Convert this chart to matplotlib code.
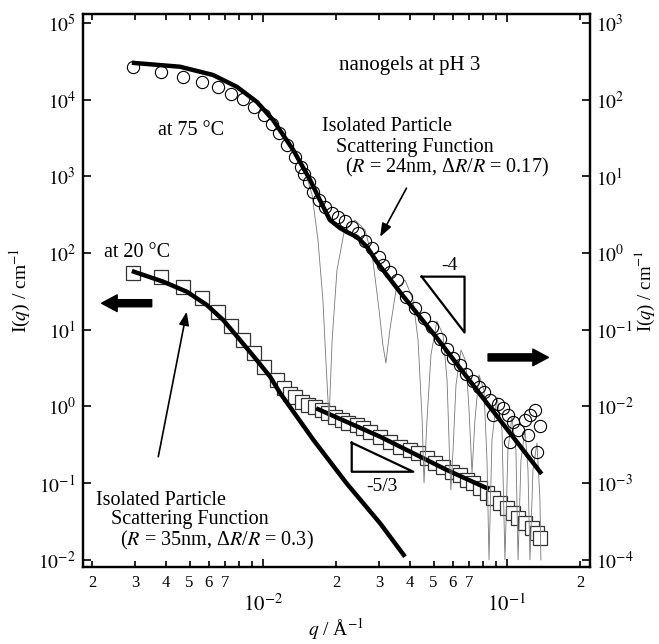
import numpy as np
import matplotlib
matplotlib.use("Agg")
import matplotlib.pyplot as plt
from matplotlib.ticker import LogLocator, NullLocator, FuncFormatter

plt.rcParams['font.family'] = ['Liberation Serif', 'DejaVu Serif']
plt.rcParams['mathtext.fontset'] = 'stix'

# 75 C data (right axis), circles
q_75 = [2.93e-3, 3.82e-3, 4.70e-3, 5.62e-3, 6.54e-3, 7.40e-3, 8.28e-3, 9.19e-3, 1.01e-2, 1.09e-2,
        1.16e-2, 1.25e-2, 1.35e-2, 1.43e-2, 1.47e-2, 1.54e-2, 1.61e-2, 1.69e-2, 1.79e-2, 1.92e-2,
        2.03e-2, 2.17e-2, 2.31e-2, 2.45e-2, 2.62e-2, 2.79e-2, 2.99e-2, 3.11e-2, 3.31e-2, 3.53e-2,
        3.85e-2, 4.20e-2, 4.57e-2, 4.95e-2, 5.31e-2, 5.66e-2, 5.99e-2, 6.41e-2, 6.79e-2, 7.23e-2,
        7.69e-2, 8.05e-2, 8.51e-2, 8.79e-2, 9.21e-2, 9.66e-2, 0.1012, 0.1028, 0.1061, 0.1112,
        0.1185, 0.1223, 0.1242, 0.1302, 0.1331, 0.1365]
I_75 = [267, 230, 198, 170, 147, 119, 101, 80, 63, 48,
        37, 25.6, 17.9, 13.3, 10.7, 8.45, 6.27, 4.92, 3.99, 3.33,
        2.96, 2.62, 2.19, 1.83, 1.44, 1.16, 0.897, 0.70, 0.571, 0.446,
        0.268, 0.192, 0.143, 0.109, 0.0759, 0.0562, 0.0429, 0.0348, 0.0265, 0.0215,
        0.0179, 0.0155, 0.0122, 0.00775, 0.0108, 0.00955, 0.00775, 0.00344, 0.00628, 0.00494,
        0.00667, 0.00425, 0.00775, 0.0090, 0.00255, 0.00557]

# 75 C polydisperse fit (thick)
fit75_q = [2.90e-3, 4.57e-3, 6.24e-3, 7.82e-3, 9.45e-3, 1.10e-2, 1.33e-2, 1.56e-2, 1.71e-2, 1.88e-2,
           2.07e-2, 2.21e-2, 2.43e-2, 2.67e-2, 2.93e-2, 3.64e-2, 5.16e-2, 8.51e-2, 0.1387]
fit75_I = [303, 269, 210, 147, 93.3, 54.3, 22.1, 8.98, 4.92, 2.70,
           2.12, 1.88, 1.62, 1.20, 0.766, 0.311, 0.0782, 9.86e-3, 1.32e-3]

# 75 C monodisperse curve (thin)
thin_q = [2.90e-3, 4.57e-3, 6.24e-3, 7.82e-3, 9.45e-3, 1.10e-2, 1.33e-2, 1.49e-2, 1.59e-2, 1.68e-2,
          1.76e-2, 1.81e-2, 1.865e-2, 1.92e-2, 2.01e-2, 2.15e-2, 2.38e-2, 2.62e-2, 2.82e-2, 2.99e-2,
          3.10e-2, 3.19e-2, 3.31e-2, 3.51e-2, 3.82e-2, 4.12e-2, 4.32e-2, 4.49e-2, 4.57e-2, 4.70e-2,
          4.88e-2, 5.16e-2, 5.47e-2, 5.68e-2, 5.84e-2, 5.89e-2, 6.01e-2, 6.18e-2, 6.48e-2, 6.79e-2,
          6.99e-2, 7.19e-2, 7.39e-2, 7.68e-2, 8.05e-2, 8.28e-2, 8.44e-2, 8.68e-2, 9.10e-2, 9.54e-2,
          9.81e-2, 0.1009, 0.1048, 0.1088, 0.1110, 0.1141, 0.1185, 0.1219, 0.1242, 0.1278,
          0.1327, 0.1365, 0.1377]
thin_I = [303, 269, 210, 146, 93.3, 54.3, 22.1, 11.4, 5.72, 1.48,
          0.245, 0.0404, 6.67e-3, 0.0736, 0.602, 1.88, 2.70, 2.00, 0.813, 0.182,
          0.0634, 0.0370, 0.0997, 0.331, 0.447, 0.245, 0.0736, 6.67e-3, 1.01e-3, 6.67e-3,
          0.0470, 0.130, 0.0858, 0.0222, 1.49e-3, 8.17e-4, 2.71e-3, 0.0191, 0.0546, 0.0381,
          9.02e-3, 1.36e-3, 6.67e-3, 0.0258, 0.0164, 2.00e-3, 1.0e-4, 3.66e-3, 0.0133, 4.94e-3,
          1.0e-4, 2.71e-3, 7.30e-3, 2.71e-3, 1.0e-4, 2.00e-3, 4.94e-3, 1.49e-3, 1.0e-4, 1.49e-3,
          3.34e-3, 6.04e-4, 1.0e-4]

# 20 C data (left axis), squares
q_20 = [2.92e-3, 3.81e-3, 4.71e-3, 5.61e-3, 6.52e-3, 7.39e-3, 8.30e-3, 9.19e-3, 1.012e-2, 1.138e-2,
        1.22e-2, 1.29e-2, 1.35e-2, 1.44e-2, 1.53e-2, 1.63e-2, 1.74e-2, 1.85e-2, 1.97e-2, 2.10e-2,
        2.24e-2, 2.42e-2, 2.57e-2, 2.75e-2, 3.02e-2, 3.31e-2, 3.64e-2, 4.00e-2, 4.33e-2, 4.69e-2,
        5.07e-2, 5.48e-2, 5.93e-2, 6.42e-2, 6.84e-2, 7.28e-2, 7.75e-2, 8.26e-2, 8.79e-2, 9.36e-2,
        9.97e-2, 0.1061, 0.1112, 0.1185, 0.1262, 0.1323, 0.1365]
I_20 = [54.5, 48.3, 36.5, 26.2, 17.2, 11.3, 7.36, 4.94, 3.30, 2.22,
        1.74, 1.46, 1.33, 1.155, 1.046, 0.994, 0.900, 0.815, 0.736, 0.667,
        0.604, 0.574, 0.525, 0.469, 0.404, 0.348, 0.299, 0.271, 0.245, 0.211,
        0.182, 0.164, 0.141, 0.128, 0.110, 0.0997, 0.0858, 0.0738, 0.0636, 0.0547,
        0.0471, 0.0405, 0.0348, 0.0300, 0.0258, 0.0222, 0.0191]

# 20 C fits
fit20_q = [2.90e-3, 3.90e-3, 4.87e-3, 5.88e-3, 6.87e-3, 8.05e-3, 9.42e-3, 1.069e-2, 1.175e-2, 1.61e-2,
           2.20e-2, 3.02e-2, 3.82e-2]
fit20_I = [58.4, 42.4, 31.4, 21.1, 13.4, 7.36, 4.04, 2.45, 1.50, 0.366, 0.0997, 0.030, 0.0110]
blob_q = [1.65e-2, 3.02e-2, 5.66e-2, 8.46e-2]
blob_I = [0.947, 0.404, 0.149, 0.0833]

# slope triangles (left axis units)
tri4_q = [4.47e-2, 6.70e-2, 6.70e-2, 4.47e-2]
tri4_I = [49.3, 49.3, 9.22, 49.3]
tri53_q = [2.31e-2, 2.31e-2, 4.13e-2, 2.31e-2]
tri53_I = [0.337, 0.141, 0.141, 0.337]

fig = plt.figure(figsize=(6.59, 6.44), dpi=100)
ax = fig.add_axes([83/659, 77/644, 507/659, 553/644])
ax2 = ax.twinx()

ax.set_xscale('log')
ax.set_yscale('log')
ax2.set_yscale('log')
ax.set_xlim(1.829e-3, 0.2189)
ax.set_ylim(8.08e-3, 1.31e5)
ax2.set_ylim(8.08e-5, 1.31e3)

# 75 C on the right axis
ax2.plot(thin_q, thin_I, color='#777777', lw=0.6, zorder=1)
ax2.plot(q_75, I_75, 'o', ms=8.8, mfc='none', mec='black', mew=0.8, zorder=2)
ax2.plot(fit75_q, fit75_I, color='black', lw=3.2, solid_capstyle='butt', zorder=3)

# 20 C on the left axis
ax.plot(q_20, I_20, 's', ms=10, mfc='white', mec='#333333', mew=0.9, zorder=2)
ax.plot(fit20_q, fit20_I, color='black', lw=3.2, solid_capstyle='butt', zorder=3)
ax.plot(blob_q, blob_I, color='black', lw=3.2, solid_capstyle='butt', zorder=3)
ax.plot(tri4_q, tri4_I, color='black', lw=1.6, zorder=3)
ax.plot(tri53_q, tri53_I, color='black', lw=1.6, zorder=3)

# ticks
def xmajor(x, pos):
    return r'$10^{%d}$' % int(round(np.log10(x)))

def xminor(x, pos):
    m = x / 10 ** np.floor(np.log10(x) + 1e-9)
    k = int(round(m))
    return str(k) if 2 <= k <= 7 else ''

def ymajor(y, pos):
    return r'$10^{%d}$' % int(round(np.log10(y)))

ax.xaxis.set_major_locator(LogLocator(base=10, numticks=20))
ax.xaxis.set_minor_locator(LogLocator(base=10, subs=np.arange(2, 10), numticks=20))
ax.xaxis.set_major_formatter(FuncFormatter(xmajor))
ax.xaxis.set_minor_formatter(FuncFormatter(xminor))
for a in (ax, ax2):
    a.yaxis.set_major_locator(LogLocator(base=10, numticks=20))
    a.yaxis.set_minor_locator(NullLocator())
    a.yaxis.set_major_formatter(FuncFormatter(ymajor))

ax.tick_params(axis='x', which='both', direction='in', top=True, width=1.2)
ax.tick_params(axis='x', which='major', length=6, pad=20, labelsize=15)
ax.tick_params(axis='x', which='minor', length=4, pad=6, labelsize=12)
ax.tick_params(axis='y', which='major', direction='in', length=6, width=1.2, right=False, labelsize=14, pad=5)
ax2.tick_params(axis='y', which='major', direction='in', length=6, width=1.2, labelsize=14, pad=4)
for a in (ax, ax2):
    for s in a.spines.values():
        s.set_linewidth(1.6)

ax.set_xlabel(r'$\mathit{q}$ / Å$^{-1}$', fontsize=14, labelpad=0)
ax.set_ylabel(r'I($\mathit{q}$) / cm$^{-1}$', fontsize=14, labelpad=4)
ax2.set_ylabel(r'I($\mathit{q}$) / cm$^{-1}$', fontsize=13.5, labelpad=0)

# annotations
tr = ax.transAxes
fs = 14.5
ax.text(0.645, 0.906, 'nanogels at pH 3', transform=tr, fontsize=15, ha='center', va='center')
ax.text(0.214, 0.790, 'at 75 °C', transform=tr, fontsize=fs, ha='center', va='center')
ax.text(0.471, 0.796, 'Isolated Particle', transform=tr, fontsize=fs, ha='left', va='center')
ax.text(0.500, 0.759, 'Scattering Function', transform=tr, fontsize=fs, ha='left', va='center')
ax.text(0.517, 0.722, r'($\mathit{R}$ = 24nm, Δ$\mathit{R}$/$\mathit{R}$ = 0.17)', transform=tr,
        fontsize=fs, ha='left', va='center')
ax.text(0.7225, 0.546, '-4', transform=tr, fontsize=14, ha='center', va='center')
ax.text(0.589, 0.145, '-5/3', transform=tr, fontsize=14, ha='center', va='center')
ax.text(0.1075, 0.568, 'at 20 °C', transform=tr, fontsize=fs, ha='center', va='center')
ax.text(0.026, 0.121, 'Isolated Particle', transform=tr, fontsize=fs, ha='left', va='center')
ax.text(0.056, 0.085, 'Scattering Function', transform=tr, fontsize=fs, ha='left', va='center')
ax.text(0.072, 0.048, r'($\mathit{R}$ = 35nm, Δ$\mathit{R}$/$\mathit{R}$ = 0.3)', transform=tr,
        fontsize=fs, ha='left', va='center')

thin = dict(arrowstyle='-|>,head_length=0.8,head_width=0.3', lw=1.2, color='black', shrinkA=0, shrinkB=0)
fat = dict(arrowstyle='simple,head_length=0.7,head_width=0.75,tail_width=0.32', mutation_scale=16,
           fc='black', ec='black', shrinkA=0, shrinkB=0)
ax.annotate('', xy=(0.586, 0.597), xytext=(0.638, 0.685), xycoords=tr, textcoords=tr, arrowprops=thin)
ax.annotate('', xy=(0.2045, 0.4617), xytext=(0.1485, 0.1995), xycoords=tr, textcoords=tr, arrowprops=thin)
ax.annotate('', xy=(0.0367, 0.477), xytext=(0.1355, 0.477), xycoords=tr, textcoords=tr, arrowprops=fat)
ax.annotate('', xy=(0.918, 0.379), xytext=(0.799, 0.379), xycoords=tr, textcoords=tr, arrowprops=fat)

fig.savefig('out.png', dpi=100)
